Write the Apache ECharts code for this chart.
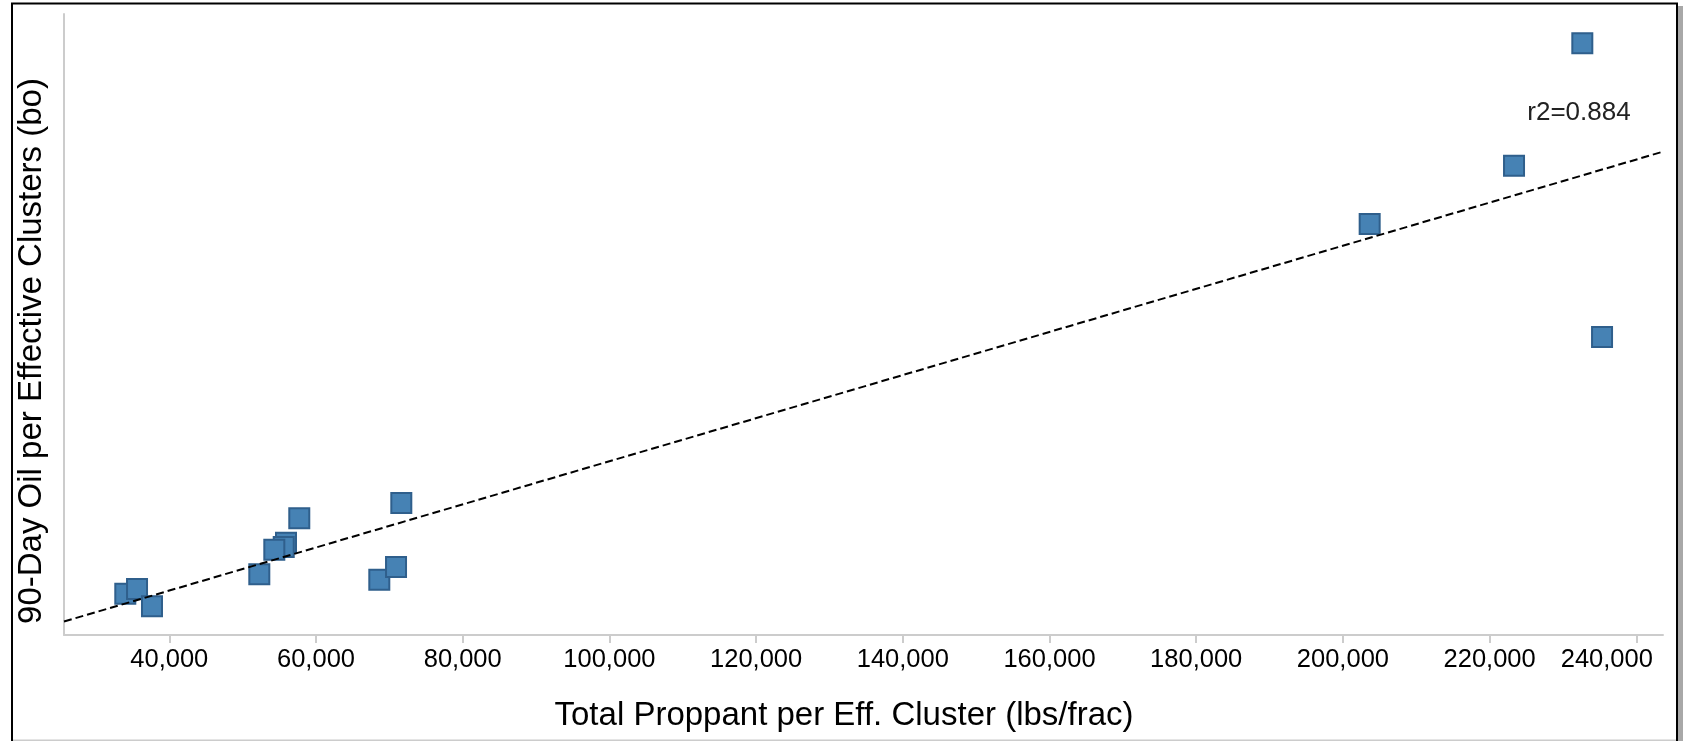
<!DOCTYPE html>
<html>
<head>
<meta charset="utf-8">
<script src="https://cdn.jsdelivr.net/npm/echarts@6/dist/echarts.min.js"></script>
<style>
html,body{margin:0;padding:0;background:#fff;}
#chart{width:1683px;height:741px;}
</style>
</head>
<body>
<div id="chart"></div>
<script>
// Data
const proppantX = [34000, 35600, 37640, 52270, 55910, 55600, 54315, 57720, 68630, 70910, 71630, 203650, 223330, 232640, 235330];
const oilY      = [66.5, 74.1, 46.2, 97.7, 148.6, 141.7, 137.4, 187.9, 89.0, 109.5, 212.6, 661.8, 755.7, 952.8, 479.9];
const xTickValues = [40000, 60000, 80000, 100000, 120000, 140000, 160000, 180000, 200000, 220000, 240000];
const trendX = [25644, 243640];
const trendY = [21.7, 778.3];
const xRange = [25644, 243640];
const yRange = [0, 1000];
const r2Text = 'r2=0.884';
const xTitle = 'Total Proppant per Eff. Cluster (lbs/frac)';
const yTitle = '90-Day Oil per Effective Clusters (bo)';

const FONT = '"Liberation Sans", Arial, sans-serif';
const chart = echarts.init(document.getElementById('chart'), null, {renderer: 'canvas'});

const points = proppantX.map((x, i) => [x, oilY[i]]);
const trend = trendX.map((x, i) => [x, trendY[i]]);
const lastTick = xTickValues[xTickValues.length - 1];

chart.setOption({
  animation: false,
  backgroundColor: '#fff',
  grid: {left: 64, right: 20, top: 14, bottom: 106, containLabel: false},
  xAxis: {
    type: 'value',
    min: xRange[0],
    max: xRange[1],
    axisLine: {show: true, lineStyle: {color: '#cccccc', width: 2}},
    axisTick: {show: true, length: 8, lineStyle: {color: '#cccccc', width: 2}, customValues: xTickValues},
    axisLabel: {
      show: true, customValues: xTickValues, margin: 12,
      fontFamily: FONT, fontSize: 25.5, color: '#000',
      formatter: v => {
        const s = Number(v).toLocaleString('en-US');
        return v === lastTick ? '{last|' + s + '}' : s;
      },
      rich: {
        last: {fontFamily: FONT, fontSize: 25.5, color: '#000', padding: [0, 59, 0, 0]}
      }
    },
    splitLine: {show: false}
  },
  yAxis: {
    type: 'value',
    min: yRange[0],
    max: yRange[1],
    axisLine: {show: true, lineStyle: {color: '#cccccc', width: 2}},
    axisTick: {show: false},
    axisLabel: {show: false},
    splitLine: {show: false}
  },
  series: [
    {
      type: 'scatter',
      data: points,
      symbol: 'rect',
      symbolSize: 20,
      itemStyle: {color: '#4682b4', borderColor: '#2f5f8c', borderWidth: 2, opacity: 1},
      z: 2
    },
    {
      type: 'line',
      data: trend,
      symbol: 'none',
      lineStyle: {color: '#000', width: 2, type: [8, 4]},
      z: 3
    }
  ],
  graphic: [
    {type: 'text', x: 844, y: 716, style: {text: xTitle, font: '33px ' + FONT, fill: '#000', textAlign: 'center', textVerticalAlign: 'middle'}},
    {type: 'text', x: 32, y: 351, rotation: Math.PI / 2, style: {text: yTitle, font: '33px ' + FONT, fill: '#000', textAlign: 'center', textVerticalAlign: 'middle'}},
    {type: 'text', x: 1579, y: 113, style: {text: r2Text, font: '26px ' + FONT, fill: '#222', textAlign: 'center', textVerticalAlign: 'middle'}},
    {type: 'rect', shape: {x: 1678, y: 6, width: 5, height: 740}, style: {fill: '#a8a8a8'}, silent: true},
    {type: 'rect', shape: {x: 12, y: 739.5, width: 1665, height: 1.5}, style: {fill: '#cccccc'}, silent: true},
    {type: 'rect', shape: {x: 12, y: 3.5, width: 1665, height: 760}, style: {fill: 'none', stroke: '#000', lineWidth: 2}, silent: true}
  ]
});
</script>
</body>
</html>
